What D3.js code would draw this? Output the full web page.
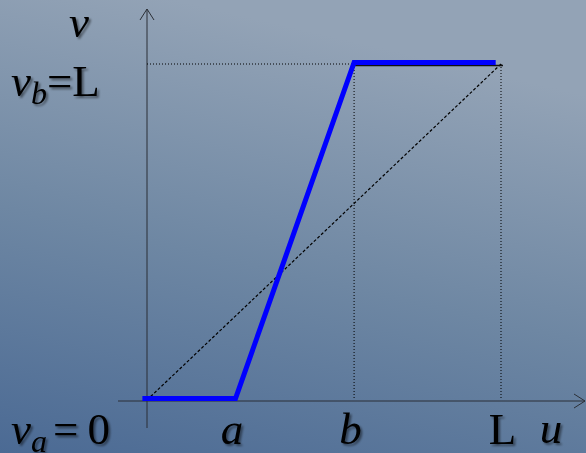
<!DOCTYPE html>
<html>
<head>
<meta charset="utf-8">
<script src="https://cdn.jsdelivr.net/npm/d3@7"></script>
<style>
  html, body { margin: 0; padding: 0; overflow: hidden; }
  svg { display: block; }
  text { font-family: "Liberation Serif", "Times New Roman", serif; fill: #000; }
</style>
</head>
<body>
<div id="chart"></div>
<script>
const svgWidth = 586;
const svgHeight = 453;

// positions on the u axis (L = 1)
const tickValues = [0.25, 0.585, 1];
const tickLabels = ["a", "b", "L"];

// blue piecewise line
const blueU = [-0.013, 0.25, 0.585, 0.985];
const blueV = [0, 0, 1, 1];

// dashed diagonal v = u
const diagU = [0, 1];
const diagV = [0, 1];

const x = d3.scaleLinear().domain([0, 1]).range([147, 501]);
const y = d3.scaleLinear().domain([0, 1]).range([400, 64]);

const svg = d3.select("#chart")
    .append("svg")
    .attr("width", svgWidth)
    .attr("height", svgHeight);

const defs = svg.append("defs");

const bg = defs.append("linearGradient")
    .attr("id", "bg")
    .attr("x1", "0.3").attr("y1", "0")
    .attr("x2", "0").attr("y2", "1");
bg.append("stop").attr("offset", "0").attr("stop-color", "#93a3b6");
bg.append("stop").attr("offset", "0.5").attr("stop-color", "#6e87a3");
bg.append("stop").attr("offset", "1").attr("stop-color", "#4b6a94");

defs.append("filter")
    .attr("id", "shadow")
    .attr("x", "-20%").attr("y", "-20%")
    .attr("width", "150%").attr("height", "150%")
    .append("feDropShadow")
    .attr("dx", 2).attr("dy", 2)
    .attr("stdDeviation", 1.2)
    .attr("flood-color", "#000")
    .attr("flood-opacity", 0.45);

svg.append("rect")
    .attr("width", svgWidth)
    .attr("height", svgHeight)
    .attr("fill", "url(#bg)");

// axes lines with open arrow heads
const axisColor = "#2b2f36";
svg.append("line")
    .attr("x1", x(0)).attr("x2", x(0))
    .attr("y1", 428).attr("y2", 9)
    .attr("stroke", axisColor).attr("stroke-width", 1);
svg.append("path")
    .attr("d", `M${x(0) - 7},${20} L${x(0)},${9} L${x(0) + 7},${20}`)
    .attr("fill", "none").attr("stroke", axisColor).attr("stroke-width", 1);

svg.append("line")
    .attr("x1", 118).attr("x2", 585)
    .attr("y1", 401).attr("y2", 401)
    .attr("stroke", axisColor).attr("stroke-width", 1);
svg.append("path")
    .attr("d", `M${574},${394} L${585},${401} L${574},${408}`)
    .attr("fill", "none").attr("stroke", axisColor).attr("stroke-width", 1);

// dotted guides
const guides = svg.append("g")
    .attr("stroke", "#000")
    .attr("stroke-width", 1)
    .attr("stroke-dasharray", "1,2");
guides.append("line")
    .attr("x1", x(0)).attr("x2", x(0.585))
    .attr("y1", y(1)).attr("y2", y(1));
[0.585, 1].forEach(u => {
    guides.append("line")
        .attr("x1", x(u)).attr("x2", x(u))
        .attr("y1", y(1)).attr("y2", y(0));
});

// dashed diagonal
const line = d3.line()
    .x(d => x(d[0]))
    .y(d => y(d[1]));

svg.append("path")
    .datum(d3.zip(diagU, diagV))
    .attr("d", line)
    .attr("fill", "none")
    .attr("stroke", "#000")
    .attr("stroke-width", 1.2)
    .attr("stroke-dasharray", "3,2");

// dark line under top blue segment
svg.append("line")
    .attr("x1", x(0.585)).attr("x2", x(1) + 2)
    .attr("y1", y(1) + 1.5).attr("y2", y(1) + 1.5)
    .attr("stroke", "#111")
    .attr("stroke-width", 1.5);

svg.append("path")
    .datum(d3.zip(blueU, blueV))
    .attr("d", line)
    .attr("transform", "translate(0,-1.5)")
    .attr("fill", "none")
    .attr("stroke", "#0000ff")
    .attr("stroke-width", 5)
    .attr("stroke-linejoin", "miter");

// u axis labels
const xAxis = d3.axisBottom(x)
    .tickValues(tickValues)
    .tickFormat((d, i) => tickLabels[i])
    .tickSize(0)
    .tickPadding(11);

const xAxisG = svg.append("g")
    .attr("transform", "translate(0,401)")
    .call(xAxis);
xAxisG.select(".domain").remove();
xAxisG.selectAll("text")
    .attr("font-family", "Liberation Serif, serif")
    .attr("font-size", 45)
    .attr("fill", "#000")
    .attr("filter", "url(#shadow)")
    .attr("font-style", (d, i) => tickLabels[i] === "L" ? "normal" : "italic")
    .attr("dx", (d, i) => tickLabels[i] === "L" ? 1 : -4);

const labels = svg.append("g")
    .attr("font-size", 45)
    .attr("filter", "url(#shadow)");

labels.append("text")
    .attr("x", 551).attr("y", 443)
    .attr("text-anchor", "middle")
    .attr("font-style", "italic")
    .text("u");

labels.append("text")
    .attr("x", 79).attr("y", 37)
    .attr("text-anchor", "middle")
    .attr("font-style", "italic")
    .text("v");

const vb = labels.append("text")
    .attr("x", 11).attr("y", 96);
vb.append("tspan").attr("font-style", "italic").text("v");
vb.append("tspan").attr("font-style", "italic").attr("font-size", 32).attr("dy", 8).text("b");
vb.append("tspan").attr("dy", -8).text("=L");

const va = labels.append("text")
    .attr("x", 11).attr("y", 444);
va.append("tspan").attr("font-style", "italic").text("v");
va.append("tspan").attr("font-style", "italic").attr("font-size", 32).attr("dy", 8).text("a");
va.append("tspan").attr("dy", -8).attr("dx", 6).text("=");
va.append("tspan").attr("dx", 9).text("0");
</script>
</body>
</html>
